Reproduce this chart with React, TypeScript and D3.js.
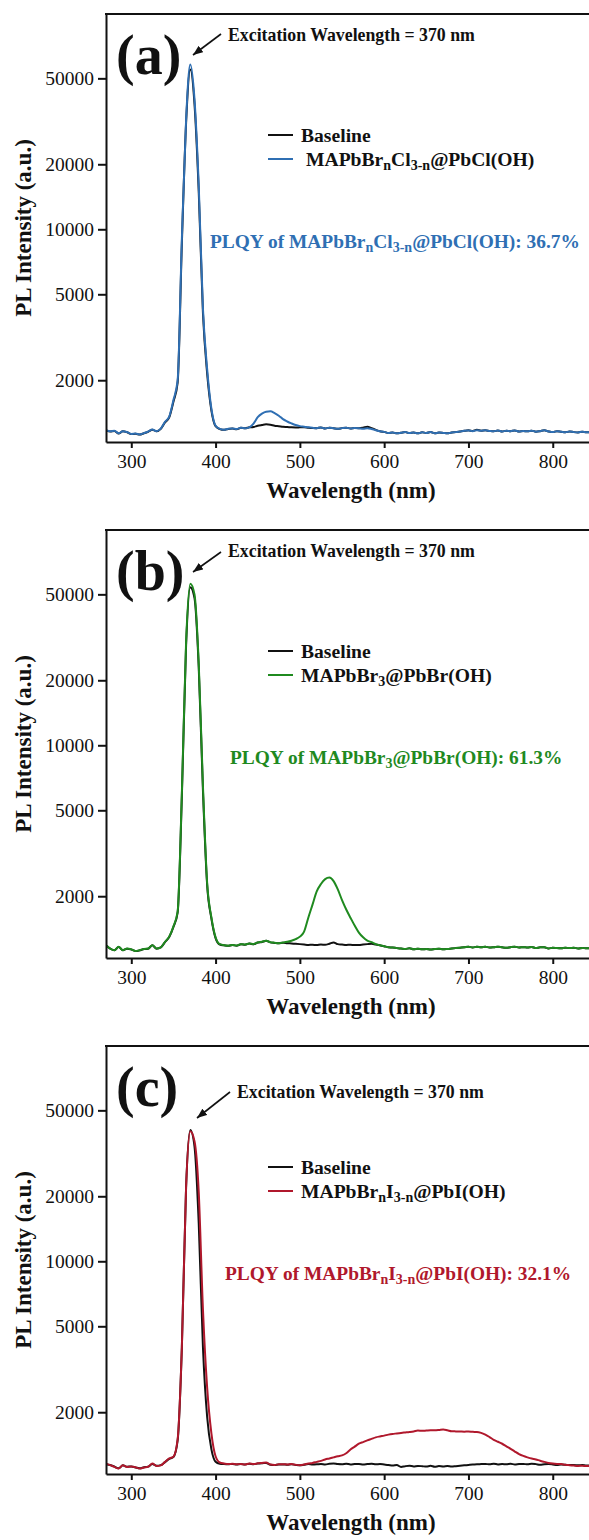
import React, { useEffect, useRef } from "react";
import * as d3 from "d3";

// sampling grid of the spectra (nm)
const wavelengths = d3.range(270, 846, 5);

const xTicks = [300, 400, 500, 600, 700, 800];
const yTicks = [2000, 5000, 10000, 20000, 50000];

// (a) MAPbBrnCl3-n@PbCl(OH)
const baselineA = [
  1170, 1158, 1165, 1132, 1160, 1148, 1126, 1130, 1120, 1136,
  1155, 1180, 1160, 1190, 1275, 1345, 1590, 1950, 8600, 31000,
  55000, 38000, 15000, 4100, 2150, 1450, 1225, 1188, 1178, 1190,
  1194, 1186, 1204, 1198, 1210, 1215, 1230, 1240, 1249, 1245,
  1230, 1225, 1217, 1214, 1210, 1208, 1210, 1212, 1206, 1202,
  1200, 1208, 1196, 1204, 1198, 1192, 1200, 1206, 1195, 1202,
  1198, 1205, 1218, 1200, 1178, 1160, 1153, 1140, 1146, 1135,
  1142, 1150, 1138, 1145, 1135, 1148, 1140, 1152, 1136, 1144,
  1140, 1135, 1146, 1150, 1158, 1166, 1172, 1164, 1178, 1168,
  1172, 1165, 1160, 1170, 1158, 1166, 1162, 1170, 1158, 1164,
  1160, 1168, 1155, 1162, 1172, 1158, 1150, 1162, 1155, 1148,
  1158, 1150, 1146, 1155, 1148, 1152,
];
const sampleA = [
  1175, 1160, 1168, 1135, 1162, 1150, 1128, 1132, 1122, 1138,
  1157, 1183, 1162, 1194, 1284, 1357, 1620, 2000, 9000, 32000,
  58000, 40000, 16000, 4300, 2250, 1480, 1230, 1190, 1180, 1192,
  1196, 1188, 1204, 1198, 1210, 1260, 1348, 1400, 1429, 1435,
  1409, 1370, 1320, 1288, 1262, 1240, 1226, 1218, 1210, 1204,
  1200, 1208, 1196, 1204, 1198, 1192, 1200, 1206, 1195, 1202,
  1198, 1192, 1200, 1190, 1174, 1160, 1153, 1140, 1146, 1135,
  1142, 1150, 1138, 1145, 1135, 1148, 1140, 1152, 1136, 1144,
  1140, 1135, 1146, 1150, 1158, 1166, 1170, 1162, 1174, 1168,
  1172, 1165, 1160, 1170, 1158, 1166, 1162, 1170, 1158, 1164,
  1160, 1168, 1155, 1162, 1172, 1158, 1150, 1162, 1155, 1148,
  1158, 1150, 1146, 1155, 1148, 1152,
];

// (b) MAPbBr3@PbBr(OH)
const baselineB = [
  1185, 1143, 1123, 1164, 1124, 1143, 1133, 1115, 1123, 1138,
  1143, 1185, 1143, 1158, 1225, 1295, 1440, 1680, 5800, 29000,
  54000, 48000, 23000, 6200, 2250, 1580, 1280, 1195, 1185, 1178,
  1188, 1180, 1198, 1193, 1207, 1198, 1220, 1228, 1243, 1223,
  1216, 1210, 1218, 1212, 1209, 1205, 1200, 1195, 1190, 1192,
  1188, 1195, 1192, 1205, 1222, 1200, 1195, 1190, 1192, 1188,
  1190, 1195, 1200, 1205, 1195, 1185, 1174, 1160, 1157, 1150,
  1145, 1140, 1148, 1136, 1142, 1135, 1140, 1132, 1138, 1143,
  1136, 1140, 1145, 1150, 1155, 1160, 1166, 1158, 1166, 1160,
  1166, 1158, 1162, 1168, 1160, 1155, 1162, 1166, 1158, 1162,
  1157, 1165, 1150, 1160, 1162, 1145, 1155, 1150, 1148, 1156,
  1150, 1155, 1145, 1152, 1148, 1152,
];
const sampleB = [
  1187, 1145, 1125, 1166, 1125, 1145, 1135, 1116, 1125, 1140,
  1145, 1187, 1145, 1160, 1230, 1300, 1450, 1700, 6000, 30000,
  56000, 50000, 24000, 6500, 2300, 1600, 1290, 1200, 1187, 1180,
  1190, 1182, 1200, 1195, 1209, 1200, 1222, 1230, 1245, 1225,
  1218, 1212, 1220, 1230, 1245, 1265, 1300, 1372, 1591, 1829,
  2104, 2278, 2400, 2440, 2350, 2150, 1919, 1736, 1591, 1462,
  1357, 1290, 1245, 1225, 1200, 1185, 1174, 1160, 1157, 1150,
  1145, 1140, 1148, 1136, 1142, 1135, 1140, 1132, 1138, 1143,
  1136, 1140, 1145, 1150, 1155, 1160, 1166, 1158, 1166, 1160,
  1166, 1158, 1162, 1168, 1160, 1155, 1162, 1166, 1158, 1162,
  1157, 1165, 1150, 1160, 1162, 1145, 1155, 1150, 1148, 1156,
  1150, 1155, 1145, 1152, 1148, 1152,
];

// (c) MAPbBrnI3-n@PbI(OH)
const baselineC = [
  1150, 1140, 1120, 1100, 1135, 1118, 1122, 1110, 1100, 1112,
  1120, 1150, 1130, 1138, 1175, 1215, 1240, 1480, 4000, 22000,
  40500, 34000, 15000, 4000, 1900, 1350, 1180, 1155, 1150, 1148,
  1152, 1146, 1150, 1144, 1155, 1148, 1158, 1160, 1165, 1142,
  1138, 1145, 1146, 1142, 1148, 1140, 1135, 1142, 1150, 1146,
  1148, 1152, 1145, 1155, 1158, 1150, 1148, 1155, 1146, 1150,
  1152, 1145, 1150, 1155, 1148, 1150, 1145, 1140, 1132, 1138,
  1116, 1125, 1130, 1122, 1128, 1125, 1120, 1130, 1118, 1126,
  1122, 1128, 1120, 1125, 1130, 1135, 1140, 1145, 1148, 1150,
  1152, 1148, 1155, 1146, 1150, 1148, 1155, 1145, 1150, 1152,
  1148, 1155, 1150, 1142, 1148, 1150, 1146, 1140, 1145, 1142,
  1138, 1140, 1135, 1138, 1132, 1135,
];
const sampleC = [
  1157, 1137, 1116, 1097, 1137, 1116, 1120, 1112, 1097, 1110,
  1118, 1157, 1128, 1135, 1178, 1222, 1245, 1500, 4000, 22000,
  40000, 36000, 21000, 6000, 2600, 1600, 1250, 1170, 1158, 1150,
  1155, 1148, 1152, 1145, 1158, 1150, 1160, 1165, 1170, 1145,
  1140, 1148, 1149, 1145, 1150, 1142, 1137, 1145, 1157, 1165,
  1178, 1190, 1209, 1222, 1236, 1250, 1262, 1292, 1343, 1385,
  1429, 1455, 1481, 1505, 1530, 1545, 1558, 1575, 1587, 1595,
  1604, 1612, 1620, 1630, 1645, 1640, 1645, 1650, 1650, 1655,
  1663, 1650, 1633, 1630, 1628, 1625, 1628, 1622, 1620, 1605,
  1575, 1535, 1491, 1460, 1429, 1390, 1353, 1315, 1280, 1255,
  1236, 1220, 1209, 1192, 1178, 1165, 1157, 1152, 1150, 1142,
  1137, 1132, 1128, 1130, 1126, 1128,
];

type Part = [string, boolean];

const panels = [
  {
    label: "(a)",
    color: "#2f6fb3",
    baseline: baselineA,
    sample: sampleA,
    name: [["MAPbBr", false], ["n", true], ["Cl", false], ["3-n", true], ["@PbCl(OH)", false]] as Part[],
    plqy: [["PLQY of MAPbBr", false], ["n", true], ["Cl", false], ["3-n", true], ["@PbCl(OH): 36.7%", false]] as Part[],
    nameX: 306,
    plqyX: 210,
    note: { x: 228, y: 41, ax1: 221, ay1: 34, ax2: 193, ay2: 55 },
  },
  {
    label: "(b)",
    color: "#1f8a1f",
    baseline: baselineB,
    sample: sampleB,
    name: [["MAPbBr", false], ["3", true], ["@PbBr(OH)", false]] as Part[],
    plqy: [["PLQY of MAPbBr", false], ["3", true], ["@PbBr(OH): 61.3%", false]] as Part[],
    nameX: 301,
    plqyX: 230,
    note: { x: 228, y: 41, ax1: 221, ay1: 36, ax2: 193, ay2: 56 },
  },
  {
    label: "(c)",
    color: "#b0182c",
    baseline: baselineC,
    sample: sampleC,
    name: [["MAPbBr", false], ["n", true], ["I", false], ["3-n", true], ["@PbI(OH)", false]] as Part[],
    plqy: [["PLQY of MAPbBr", false], ["n", true], ["I", false], ["3-n", true], ["@PbI(OH): 32.1%", false]] as Part[],
    nameX: 301,
    plqyX: 225,
    note: { x: 237, y: 66, ax1: 230, ay1: 60, ax2: 197, ay2: 86 },
  },
];

const font = '"Liberation Serif", "Times New Roman", serif';

function richText(sel: any, parts: Part[], subSize: number) {
  let down = false;
  parts.forEach(([t, sub]) => {
    const ts = sel.append("tspan").text(t);
    if (sub && !down) {
      ts.attr("dy", 4).attr("font-size", subSize);
      down = true;
    } else if (sub) {
      ts.attr("font-size", subSize);
    } else if (down) {
      ts.attr("dy", -4);
      down = false;
    }
  });
}

export default function App() {
  const ref = useRef<SVGSVGElement>(null);

  useEffect(() => {
    const svg = d3.select(ref.current);
    svg.selectAll("*").remove();

    const defs = svg.append("defs");
    defs
      .append("marker")
      .attr("id", "arrowHead")
      .attr("viewBox", "0 0 10 8")
      .attr("refX", 10)
      .attr("refY", 4)
      .attr("markerUnits", "userSpaceOnUse")
      .attr("markerWidth", 10)
      .attr("markerHeight", 8)
      .attr("orient", "auto")
      .append("path")
      .attr("d", "M0,0L10,4L0,8z")
      .attr("fill", "#111");

    const left = 106;
    const right = 589;
    const top = 14;
    const bottom = 442;

    // clip is applied inside each translated panel group, so one rect serves all
    defs
      .append("clipPath")
      .attr("id", "plotClip")
      .append("rect")
      .attr("x", left)
      .attr("y", top)
      .attr("width", right - left)
      .attr("height", bottom - top);

    const x = d3.scaleLinear().domain([270, 843]).range([left, right]);
    const y = d3.scaleLog().domain([1035, 99300]).range([bottom, top]);

    const line = d3
      .line<number>()
      .x((_, k) => x(wavelengths[k]))
      .y((v) => y(v))
      .curve(d3.curveMonotoneX);

    panels.forEach((p, i) => {
      const g = svg.append("g").attr("transform", `translate(0,${i * 516})`);

      const plot = g.append("g").attr("clip-path", "url(#plotClip)");
      plot
        .append("path")
        .attr("d", line(p.baseline))
        .attr("fill", "none")
        .attr("stroke", "#111")
        .attr("stroke-width", 2);
      plot
        .append("path")
        .attr("d", line(p.sample))
        .attr("fill", "none")
        .attr("stroke", p.color)
        .attr("stroke-width", 2);

      // axes
      const yAxis = g
        .append("g")
        .attr("transform", `translate(${left},0)`)
        .call(
          d3
            .axisLeft(y)
            .tickValues(yTicks)
            .tickFormat(d3.format("d"))
            .tickSize(8)
            .tickSizeOuter(0)
            .tickPadding(4)
        )
        .attr("font-size", 19.5)
        .attr("font-family", font);
      yAxis.selectAll("line").attr("stroke-width", 2).attr("stroke", "#111");
      yAxis.select(".domain").attr("stroke-width", 2).attr("stroke", "#111");
      yAxis.selectAll("text").attr("fill", "#111");

      const xAxis = g
        .append("g")
        .attr("transform", `translate(0,${bottom})`)
        .call(
          d3
            .axisBottom(x)
            .tickValues(xTicks)
            .tickSize(6)
            .tickSizeOuter(0)
            .tickPadding(6)
        )
        .attr("font-size", 19.5)
        .attr("font-family", font);
      xAxis.selectAll("line").attr("stroke-width", 2).attr("stroke", "#111");
      xAxis.select(".domain").attr("stroke-width", 2).attr("stroke", "#111");
      xAxis.selectAll("text").attr("fill", "#111");

      g.append("line")
        .attr("x1", left - 1)
        .attr("x2", right)
        .attr("y1", top)
        .attr("y2", top)
        .attr("stroke", "#111")
        .attr("stroke-width", 2);

      // axis titles
      g.append("text")
        .attr("x", 351)
        .attr("y", 498)
        .attr("text-anchor", "middle")
        .attr("font-family", font)
        .attr("font-weight", "bold")
        .attr("font-size", 23)
        .attr("fill", "#111")
        .text("Wavelength (nm)");

      g.append("text")
        .attr("transform", "translate(31,228) rotate(-90)")
        .attr("text-anchor", "middle")
        .attr("font-family", font)
        .attr("font-weight", "bold")
        .attr("font-size", 23)
        .attr("fill", "#111")
        .text("PL Intensity (a.u.)");

      // panel label
      g.append("text")
        .attr("x", 116)
        .attr("y", 74)
        .attr("font-family", font)
        .attr("font-weight", "bold")
        .attr("font-size", 56)
        .attr("fill", "#111")
        .text(p.label);

      // excitation note
      g.append("text")
        .attr("x", p.note.x)
        .attr("y", p.note.y)
        .attr("font-family", font)
        .attr("font-weight", "bold")
        .attr("font-size", 17.8)
        .attr("fill", "#111")
        .text("Excitation Wavelength = 370 nm");
      g.append("line")
        .attr("x1", p.note.ax1)
        .attr("y1", p.note.ay1)
        .attr("x2", p.note.ax2)
        .attr("y2", p.note.ay2)
        .attr("stroke", "#111")
        .attr("stroke-width", 1.6)
        .attr("marker-end", "url(#arrowHead)");

      // legend
      const legend = g.append("g").attr("font-family", font).attr("font-weight", "bold").attr("font-size", 19.6);
      legend.append("line").attr("x1", 268).attr("x2", 293).attr("y1", 135).attr("y2", 135).attr("stroke", "#111").attr("stroke-width", 2);
      legend.append("line").attr("x1", 268).attr("x2", 293).attr("y1", 159).attr("y2", 159).attr("stroke", p.color).attr("stroke-width", 2);
      legend.append("text").attr("x", 301).attr("y", 141.5).attr("fill", "#111").text("Baseline");
      richText(legend.append("text").attr("x", p.nameX).attr("y", 165.5).attr("fill", "#111"), p.name, 14);

      // PLQY note
      richText(
        g
          .append("text")
          .attr("x", p.plqyX)
          .attr("y", 248)
          .attr("font-family", font)
          .attr("font-weight", "bold")
          .attr("font-size", 19.4)
          .attr("fill", p.color),
        p.plqy,
        14
      );
    });
  }, []);

  return (
    <svg
      ref={ref}
      width={589}
      height={1540}
      style={{ position: "absolute", left: 0, top: 0, background: "#fff" }}
    />
  );
}
